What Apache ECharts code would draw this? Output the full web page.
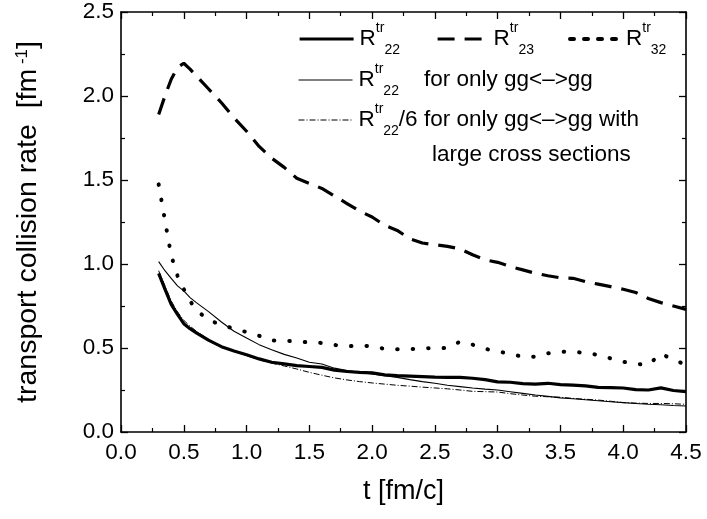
<!DOCTYPE html>
<html>
<head>
<meta charset="utf-8">
<script src="https://cdn.jsdelivr.net/npm/echarts@6/dist/echarts.min.js"></script>
<style>
  html, body { margin: 0; padding: 0; background: #fff; }
  #chart { width: 707px; height: 519px; }
</style>
</head>
<body>
<div id="chart"></div>
<script>
// time axis (fm/c)
const t = [0.3, 0.35, 0.4, 0.45, 0.5, 0.55, 0.6, 0.7, 0.8, 0.9, 1.0, 1.1, 1.2, 1.3, 1.4, 1.5,
  1.6, 1.7, 1.8, 1.9, 2.0, 2.1, 2.2, 2.3, 2.4, 2.5, 2.6, 2.7, 2.8, 2.9, 3.0, 3.1, 3.2, 3.3,
  3.4, 3.5, 3.6, 3.7, 3.8, 3.9, 4.0, 4.1, 4.2, 4.3, 4.4, 4.5]

// R22 (thick solid)
const r22 = [0.944, 0.85, 0.76, 0.7, 0.645, 0.615, 0.59, 0.545, 0.508, 0.482, 0.46, 0.435, 0.415,
  0.405, 0.395, 0.39, 0.385, 0.368, 0.36, 0.355, 0.352, 0.34, 0.336, 0.333, 0.33, 0.327, 0.325,
  0.325, 0.32, 0.312, 0.298, 0.296, 0.288, 0.285, 0.29, 0.282, 0.279, 0.275, 0.266, 0.264, 0.262,
  0.252, 0.25, 0.263, 0.247, 0.24]

// R23 (dashed)
const r23 = [1.89, 2.0, 2.1, 2.17, 2.195, 2.16, 2.12, 2.04, 1.96, 1.87, 1.79, 1.7, 1.63, 1.575,
  1.51, 1.48, 1.45, 1.405, 1.36, 1.315, 1.28, 1.23, 1.2, 1.15, 1.125, 1.115, 1.105, 1.09, 1.055,
  1.025, 1.01, 0.985, 0.965, 0.945, 0.93, 0.918, 0.915, 0.895, 0.88, 0.865, 0.85, 0.83, 0.795,
  0.77, 0.75, 0.73]

// R32 (dotted)
const r32 = [1.474, 1.26, 1.05, 0.93, 0.85, 0.78, 0.725, 0.665, 0.638, 0.615, 0.595, 0.573, 0.545,
  0.544, 0.538, 0.534, 0.53, 0.518, 0.51, 0.515, 0.51, 0.495, 0.492, 0.492, 0.5, 0.498, 0.5,
  0.538, 0.52, 0.495, 0.48, 0.465, 0.448, 0.448, 0.468, 0.478, 0.476, 0.472, 0.458, 0.438, 0.418,
  0.405, 0.4, 0.466, 0.43, 0.4]

// R22 for only gg<->gg (thin solid)
const r22gg = [1.014, 0.96, 0.915, 0.87, 0.84, 0.8, 0.77, 0.715, 0.655, 0.6, 0.56, 0.52, 0.49,
  0.462, 0.44, 0.415, 0.405, 0.38, 0.366, 0.355, 0.345, 0.335, 0.325, 0.312, 0.3, 0.29, 0.278,
  0.27, 0.262, 0.255, 0.25, 0.24, 0.23, 0.22, 0.212, 0.203, 0.198, 0.192, 0.186, 0.18, 0.175,
  0.17, 0.165, 0.162, 0.158, 0.155]

// R22/6 for only gg<->gg with large cross sections (dash-dot)
const r22large = [0.96, 0.87, 0.78, 0.715, 0.665, 0.63, 0.6, 0.55, 0.51, 0.48, 0.455, 0.43, 0.41,
  0.393, 0.375, 0.355, 0.338, 0.322, 0.31, 0.3, 0.292, 0.285, 0.278, 0.273, 0.267, 0.262, 0.257,
  0.25, 0.242, 0.24, 0.238, 0.228, 0.22, 0.213, 0.21, 0.207, 0.2, 0.195, 0.19, 0.183, 0.175,
  0.172, 0.17, 0.17, 0.168, 0.165]

const xTicks = [0, 4.5, 0.5]
const yTicks = [0, 2.5, 0.5]

const font = 'Liberation Sans, Arial, sans-serif'
const pair = (ys) => t.map((x, i) => [x, ys[i]])

const labels = {
  R22: 'R{sup|tr}{sub|22}',
  R23: 'R{sup|tr}{sub|23}',
  R32: 'R{sup|tr}{sub|32}',
  R22gg: 'R{sup|tr}{sub|22}    for only gg<\u2013>gg',
  R22large: 'R{sup|tr}{sub|22}/6 for only gg<\u2013>gg with',
}

const rich = {
  sup: { fontSize: 14, fontFamily: font, color: '#000', verticalAlign: 'top', lineHeight: 14 },
  sub: { fontSize: 14, fontFamily: font, color: '#000', verticalAlign: 'bottom', lineHeight: 14 },
}

// one legend per entry so each can sit where the original has it
const legendAt = (name, left, top, w, lw, dash) => ({
  data: [name],
  left,
  top,
  itemWidth: w,
  itemHeight: 12,
  itemGap: 0,
  padding: 0,
  selectedMode: false,
  itemStyle: { opacity: 0 },
  lineStyle: { width: lw, type: dash || 'solid', color: '#000' },
  formatter: (n) => labels[n],
  textStyle: { fontSize: 22.5, fontFamily: font, color: '#000', lineHeight: 36, padding: [0, 0, 0, 1], rich },
})

const axisCommon = {
  axisLine: { onZero: false, lineStyle: { color: '#000', width: 1.6 } },
  axisTick: { inside: true, length: 7, lineStyle: { color: '#000', width: 1.3 } },
  minorTick: { show: true, splitNumber: 2, length: 4, lineStyle: { color: '#000', width: 1.2 } },
  splitLine: { show: false },
}

const chart = echarts.init(document.getElementById('chart'))

const option = {
  backgroundColor: '#fff',
  animation: false,
  color: ['#000'],
  grid: { left: 121, right: 21, top: 12, bottom: 87 },
  legend: [
    legendAt('R22', 298, 21, 54, 3.2),
    legendAt('R23', 436, 21, 50, 3.2, [17, 10]),
    legendAt('R32', 568, 21, 50, 4, [4, 10]),
    legendAt('R22gg', 298, 62, 54, 1.1),
    legendAt('R22large', 298, 102, 54, 1, [6, 2, 1, 2]),
  ],
  graphic: [{
    type: 'text',
    left: 432,
    top: 143,
    style: { text: 'large cross sections', font: '22.5px ' + font, fill: '#000' },
  }],
  xAxis: [{
    type: 'value',
    min: xTicks[0], max: xTicks[1], interval: xTicks[2],
    name: 't [fm/c]',
    nameLocation: 'middle',
    nameGap: 46,
    nameTextStyle: { fontSize: 27, fontFamily: font, color: '#000' },
    axisLabel: { fontSize: 22.5, fontFamily: font, color: '#000', margin: 9, formatter: (v) => v.toFixed(1) },
    ...axisCommon,
  }, {
    type: 'value', position: 'top',
    min: xTicks[0], max: xTicks[1], interval: xTicks[2],
    axisLabel: { show: false },
    ...axisCommon,
  }],
  yAxis: [{
    type: 'value',
    min: yTicks[0], max: yTicks[1], interval: yTicks[2],
    name: 'transport collision rate  [fm{sup| -1}]',
    nameLocation: 'middle',
    nameGap: 78,
    nameRotate: 90,
    nameTextStyle: {
      fontSize: 28.5, fontFamily: font, color: '#000',
      rich: { sup: { fontSize: 17, fontFamily: font, color: '#000', verticalAlign: 'top', lineHeight: 17 } },
    },
    axisLabel: { fontSize: 22.5, fontFamily: font, color: '#000', margin: 7, formatter: (v) => v.toFixed(1) },
    ...axisCommon,
  }, {
    type: 'value', position: 'right',
    min: yTicks[0], max: yTicks[1], interval: yTicks[2],
    axisLabel: { show: false },
    ...axisCommon,
  }],
  series: [
    {
      name: 'R22', type: 'line', data: pair(r22), symbol: 'none', color: '#000',
      lineStyle: { color: '#000', width: 3.2 },
    },
    {
      name: 'R23', type: 'line', data: pair(r23), symbol: 'none', color: '#000',
      lineStyle: { color: '#000', width: 3.2, type: [17, 10] },
    },
    {
      name: 'R32', type: 'line', data: pair(r32), symbol: 'none', color: '#000',
      lineStyle: { color: '#000', width: 4, type: [0.5, 15], cap: 'round' },
    },
    {
      name: 'R22gg', type: 'line', data: pair(r22gg), symbol: 'none', color: '#000',
      lineStyle: { color: '#000', width: 1.1 },
    },
    {
      name: 'R22large', type: 'line', data: pair(r22large), symbol: 'none', color: '#000',
      lineStyle: { color: '#000', width: 1, type: [6, 2, 1, 2] },
    },
  ],
}

chart.setOption(option)
</script>
</body>
</html>
